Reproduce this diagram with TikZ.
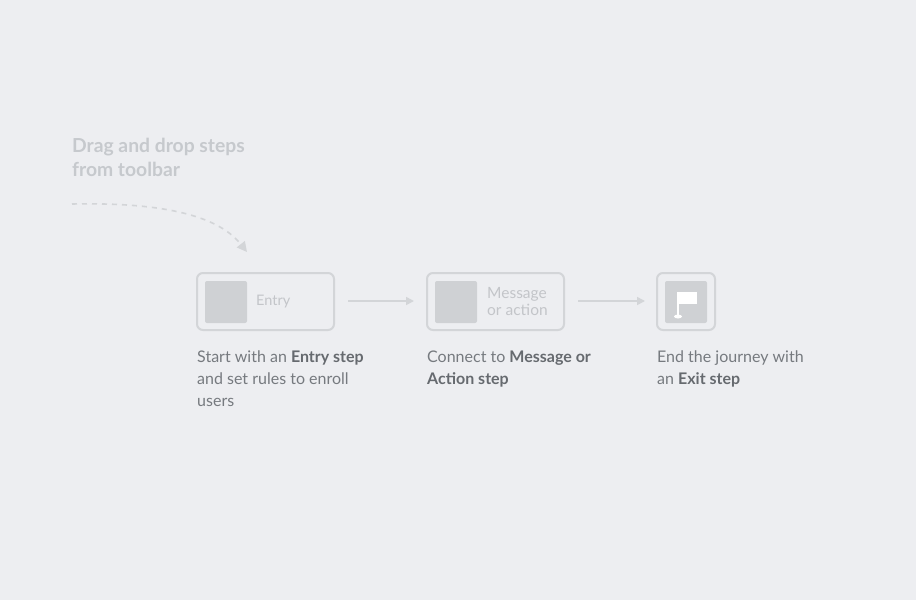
\documentclass[tikz,border=0pt]{standalone}
\usepackage{fontspec}
\setmainfont{Lato}
\usetikzlibrary{arrows.meta}
\definecolor{bg}{HTML}{EDEEF1}
\definecolor{boxline}{HTML}{D3D5D8}
\definecolor{inner}{HTML}{CFD1D4}
\definecolor{lbl}{HTML}{C3C5C9}
\definecolor{txt}{HTML}{767A7F}
\definecolor{txtb}{HTML}{666A6F}
\definecolor{head}{HTML}{C6C9CD}
\tikzset{
  stepbox/.style={draw=boxline,line width=2pt,rounded corners=6pt},
  innersq/.style={fill=inner,rounded corners=2pt},
  flow/.style={draw=boxline,line width=1.6pt,-{Triangle[length=8pt,width=8pt]}},
  desc/.style={anchor=north west,align=left,inner sep=0,text=txt,font=\fontsize{16}{22}\selectfont},
  boxlbl/.style={anchor=west,align=left,inner sep=0,text=lbl,font=\fontsize{15.5}{17}\selectfont},
}
\begin{document}
\begin{tikzpicture}[x=1pt,y=-1pt]
\fill[bg] (0,0) rectangle (916,600);
\useasboundingbox (0,0) rectangle (916,600);
\node[anchor=north west,align=left,inner sep=0,text=head,font=\fontsize{19.3}{24}\selectfont\bfseries] (hd) at (72,138) {Drag and drop steps\\from toolbar};
\coordinate (ds) at (72,204);
\coordinate (de) at (247,252);
\draw[boxline,line width=1.6pt,dash pattern=on 5pt off 5pt,-{Triangle[length=10pt,width=10pt]}] (ds) .. controls (170,202) and (220,218) .. (de);
% boxes
\draw[stepbox] (197,273) rectangle (334,330);
\fill[innersq] (205,281) rectangle (247,323);
\node[boxlbl,font=\fontsize{14.5}{17}\selectfont] (e) at (256,302) {Entry};
\draw[stepbox] (427,273) rectangle (564,330);
\fill[innersq] (435,281) rectangle (477,323);
\node[boxlbl] (m) at (487,302) {Message\\or action};
\draw[stepbox] (657,273) rectangle (715,330);
\fill[innersq] (665,281) rectangle (707,323);
% flag
\fill[white] (676.5,292) rectangle (679,316);
\fill[white] (677,292) rectangle (697,304);
\fill[white] (678,316.5) ellipse (4pt and 2pt);
\coordinate (a1s) at (348,301); \coordinate (a1e) at (414,301);
\coordinate (a2s) at (578,301); \coordinate (a2e) at (645,301);
\draw[flow] (a1s) -- (a1e);
\draw[flow] (a2s) -- (a2e);
\node[desc] (t1) at (197,351) {Start with an \textcolor{txtb}{\textbf{Entry step}}\\and set rules to enroll\\users};
\node[desc] (t2) at (427,351) {Connect to \textcolor{txtb}{\textbf{Message or}}\\\textcolor{txtb}{\textbf{Action step}}};
\node[desc] (t3) at (657,351) {End the journey with\\an \textcolor{txtb}{\textbf{Exit step}}};
\end{tikzpicture}
\end{document}
